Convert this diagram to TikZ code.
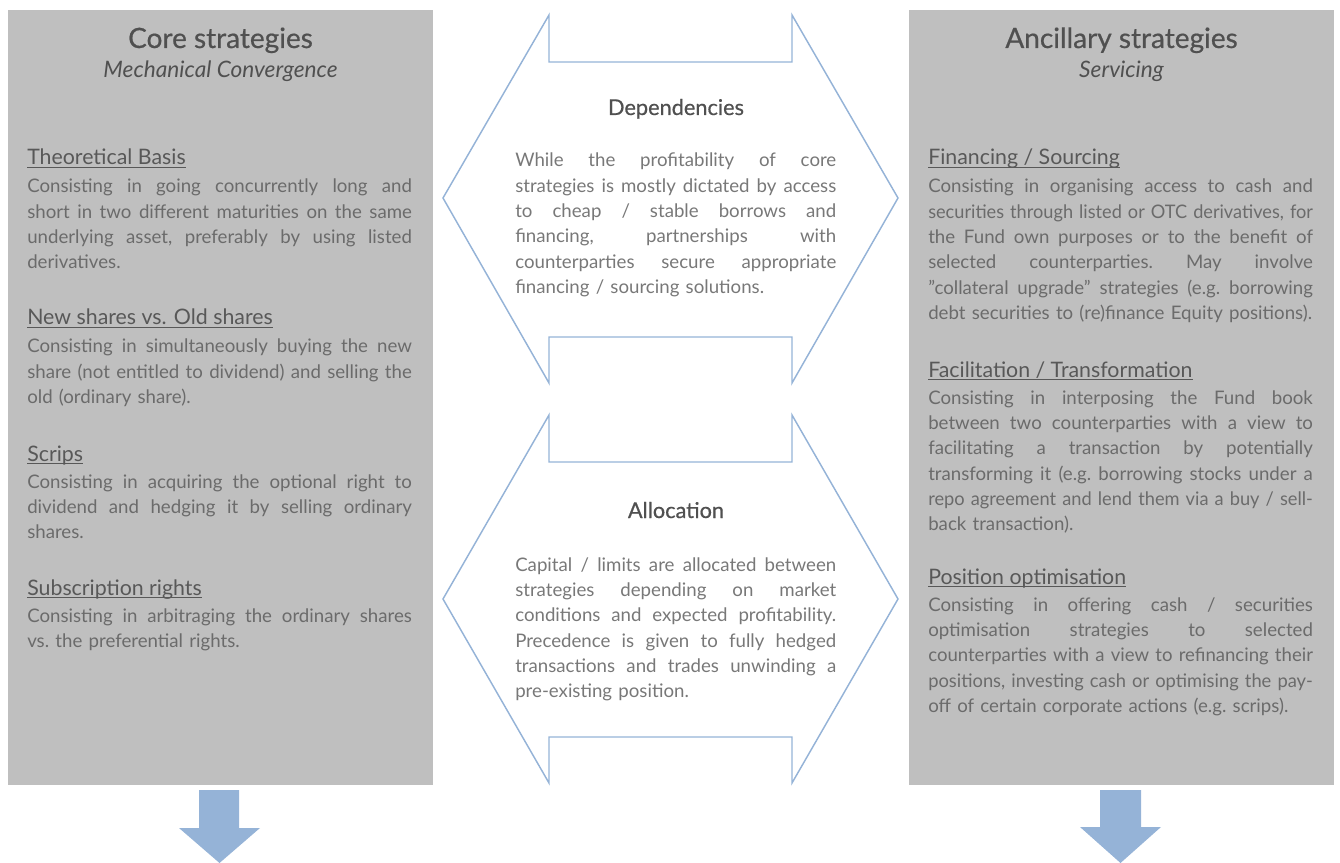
\documentclass[tikz,border=0pt]{standalone}
\usepackage{fontspec}
\usepackage{graphicx}
\setmainfont{Lato}
\newfontfamily\medfont{Lato}[FakeBold=0.6]
\definecolor{panelgray}{HTML}{BFBFBF}
\definecolor{titlegray}{HTML}{505050}
\definecolor{headgray}{HTML}{585858}
\definecolor{bodygray}{HTML}{6B6B6B}
\definecolor{cbodygray}{HTML}{787878}
\definecolor{hexblue}{HTML}{95B3D7}
\newsavebox\jlbox
% justified line: spaces stretch evenly; compressed horizontally if too wide
\newcommand\jl[1]{\leavevmode\sbox\jlbox{#1}\ifdim\wd\jlbox>\linewidth\resizebox{\linewidth}{\height}{\usebox\jlbox}\else\hbox to\linewidth{\spaceskip=\fontdimen2\font plus 1fil\relax\xspaceskip=\spaceskip #1}\fi}
% last line: natural width, compressed if too wide
\newcommand\fl[1]{\leavevmode\sbox\jlbox{#1}\ifdim\wd\jlbox>\linewidth\resizebox{\linewidth}{\height}{\usebox\jlbox}\else\usebox\jlbox\fi}
\tikzset{
  panel/.style={fill=panelgray, draw=none},
  hexshape/.style={draw=hexblue, line width=1.1pt, line join=miter},
  downarrow/.style={fill=hexblue, draw=none},
  titletext/.style={inner sep=0pt, anchor=base, text=titlegray, font=\medfont\fontsize{21}{25}\selectfont},
  subtext/.style={inner sep=0pt, anchor=base, text=titlegray, font=\fontsize{17}{20}\selectfont\itshape},
  headtext/.style={inner sep=0pt, anchor=base west, text=headgray, font=\fontsize{16}{19}\selectfont},
  cheadtext/.style={inner sep=0pt, anchor=base, text=titlegray, font=\medfont\fontsize{16.3}{19}\selectfont},
  bodytext/.style={inner sep=0pt, anchor=base west, text=bodygray, text width=288.5pt, align=left, font=\fontsize{14}{19}\selectfont\frenchspacing},
  cbodytext/.style={bodytext, text=cbodygray, text width=240.75pt},
  uline/.style={draw=headgray, line width=0.9pt},
}
\begin{document}
\begin{tikzpicture}[x=0.75pt, y=-0.75pt]
\useasboundingbox (0,0) rectangle (1340,863);
% panels
\fill[panel] (8,10) rectangle (433,785);
\fill[panel] (909,10) rectangle (1334,785);
% central double arrows
\draw[hexshape] (443,198) -- (549,15) -- (549,62) -- (792,62) -- (792,15) -- (898,198) -- (792,383) -- (792,337) -- (549,337) -- (549,383) -- cycle;
\draw[hexshape] (443,599) -- (549,415) -- (549,462) -- (792,462) -- (792,415) -- (898,599) -- (792,783) -- (792,737) -- (549,737) -- (549,783) -- cycle;
% down arrows
\fill[downarrow] (199,790) -- (239,790) -- (239,828) -- (260,828) -- (219.5,863) -- (179,828) -- (199,828) -- cycle;
\fill[downarrow] (1100,790) -- (1141,790) -- (1141,827) -- (1161,827) -- (1120.5,863) -- (1080,827) -- (1100,827) -- cycle;

% left panel
\node[titletext] (ltitle) at (220.5,48) {Core strategies};
\node[subtext] (lsub) at (220.5,78) {Mechanical Convergence};

\node[headtext] (h1) at (27,165) {Theoretical Basis};
\draw[uline] ([yshift=-2pt]h1.base west) -- ([yshift=-2pt]h1.base east);
\node[bodytext] (b1) at (27,193) {\jl{Consisting in going concurrently long and}\\
\jl{short in two different maturities on the same}\\
\jl{underlying asset, preferably by using listed}\\
\fl{derivatives.}};

\node[headtext] (h2) at (27,325) {New shares vs. Old shares};
\draw[uline] ([yshift=-2pt]h2.base west) -- ([yshift=-2pt]h2.base east);
\node[bodytext] (b2) at (27,353) {\jl{Consisting in simultaneously buying the new}\\
\jl{share (not entitled to dividend) and selling the}\\
\fl{old (ordinary share).}};

\node[headtext] (h3) at (27,461) {Scrips};
\draw[uline] ([yshift=-2pt]h3.base west) -- ([yshift=-2pt]h3.base east);
\node[bodytext] (b3) at (27,488) {\jl{Consisting in acquiring the optional right to}\\
\jl{dividend and hedging it by selling ordinary}\\
\fl{shares.}};

\node[headtext] (h4) at (27,595) {Subscription rights};
\draw[uline] ([yshift=-2pt]h4.base west) -- ([yshift=-2pt]h4.base east);
\node[bodytext] (b4) at (27,622) {\jl{Consisting in arbitraging the ordinary shares}\\
\fl{vs. the preferential rights.}};

% right panel
\node[titletext] (rtitle) at (1121.5,48) {Ancillary strategies};
\node[subtext] (rsub) at (1121.5,78) {Servicing};

\node[headtext] (h5) at (928,165) {Financing / Sourcing};
\draw[uline] ([yshift=-2pt]h5.base west) -- ([yshift=-2pt]h5.base east);
\node[bodytext] (b5) at (928,193) {\jl{Consisting in organising access to cash and}\\
\jl{securities through listed or OTC derivatives, for}\\
\jl{the Fund own purposes or to the benefit of}\\
\jl{selected counterparties. May involve}\\
\jl{”collateral upgrade” strategies (e.g. borrowing}\\
\fl{debt securities to (re)finance Equity positions).}};

\node[headtext] (h6) at (928,377) {Facilitation / Transformation};
\draw[uline] ([yshift=-2pt]h6.base west) -- ([yshift=-2pt]h6.base east);
\node[bodytext] (b6) at (928,404) {\jl{Consisting in interposing the Fund book}\\
\jl{between two counterparties with a view to}\\
\jl{facilitating a transaction by potentially}\\
\jl{transforming it (e.g. borrowing stocks under a}\\
\jl{repo agreement and lend them via a buy / sell-}\\
\fl{back transaction).}};

\node[headtext] (h7) at (928,584) {Position optimisation};
\draw[uline] ([yshift=-2pt]h7.base west) -- ([yshift=-2pt]h7.base east);
\node[bodytext] (b7) at (928,611) {\jl{Consisting in offering cash / securities}\\
\jl{optimisation strategies to selected}\\
\jl{counterparties with a view to refinancing their}\\
\jl{positions, investing cash or optimising the pay-}\\
\fl{off of certain corporate actions (e.g. scrips).}};

% centre
\node[cheadtext] (c1) at (676,115) {Dependencies};
\node[cbodytext] (cb1) at (515,167) {\jl{While the profitability of core}\\
\jl{strategies is mostly dictated by access}\\
\jl{to cheap / stable borrows and}\\
\jl{financing, partnerships with}\\
\jl{counterparties secure appropriate}\\
\fl{financing / sourcing solutions.}};

\node[cheadtext] (c2) at (676,518) {Allocation};
\node[cbodytext] (cb2) at (515,571) {\jl{Capital / limits are allocated between}\\
\jl{strategies depending on market}\\
\jl{conditions and expected profitability.}\\
\jl{Precedence is given to fully hedged}\\
\jl{transactions and trades unwinding a}\\
\fl{pre-existing position.}};
\end{tikzpicture}
\end{document}
